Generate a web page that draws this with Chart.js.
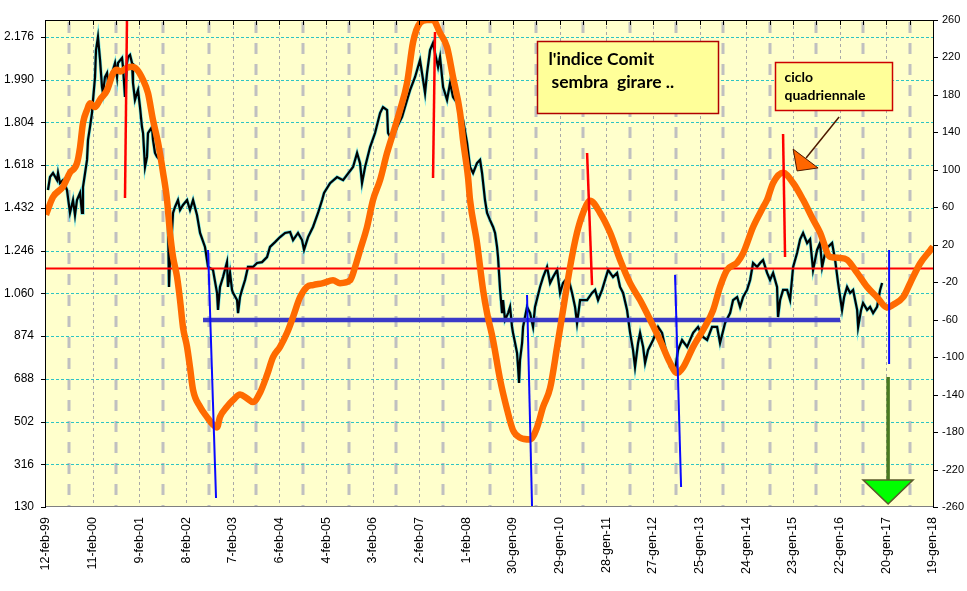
<!DOCTYPE html>
<html>
<head>
  <meta charset="utf-8">
  <title>Indice Comit - ciclo quadriennale</title>
  <script src="https://cdn.jsdelivr.net/npm/chart.js"></script>
  <style>
    body { margin: 0; background: #fff; overflow: hidden; }
  </style>
</head>
<body>
  <canvas id="grafico" width="967" height="591"></canvas>

  <script>
    // etichette asse x (una ogni 52 settimane)
    const etichetteX = ['12-feb-99', '11-feb-00', '9-feb-01', '8-feb-02', '7-feb-03', '6-feb-04',
      '4-feb-05', '3-feb-06', '2-feb-07', '1-feb-08', '30-gen-09', '29-gen-10', '28-gen-11',
      '27-gen-12', '25-gen-13', '24-gen-14', '23-gen-15', '22-gen-16', '20-gen-17', '19-gen-18'];
    const tickSx = [130, 316, 502, 688, 874, 1060, 1246, 1432, 1618, 1804, 1990, 2176];
    const tickDx = [-260, -220, -180, -140, -100, -60, -20, 20, 60, 100, 140, 180, 220, 260];

    // indice Comit: settimane dal 12-feb-99, valore
    const comitSett = [2.2, 4.5, 7.8, 12.3, 13.4, 15.6, 18.9, 23.4, 26.7, 30.1,
      32.3, 34.5, 37.9, 40.1, 41.2, 45.7, 46.8, 49.0, 51.2, 52.4,
      54.6, 55.7, 57.9, 60.2, 62.4, 63.5, 65.7, 68.0, 69.1, 71.3,
      74.6, 76.9, 79.1, 80.2, 84.7, 85.8, 88.0, 90.2, 91.3, 93.6,
      95.8, 96.9, 99.1, 101.4, 102.5, 104.7, 106.9, 108.1, 110.3, 112.5,
      113.6, 118.1, 119.2, 121.4, 123.7, 127.0, 130.4, 133.7, 135.9, 137.0,
      138.1, 140.4, 141.5, 143.7, 147.0, 149.3, 152.6, 157.1, 160.4, 163.8,
      168.2, 171.6, 177.1, 180.5, 186.0, 190.5, 191.6, 193.8, 197.2, 201.6,
      202.7, 205.0, 207.2, 208.3, 212.8, 213.9, 216.1, 218.3, 221.7, 225.0,
      230.6, 235.1, 240.6, 246.2, 249.5, 255.1, 260.7, 266.3, 271.9, 275.2,
      280.7, 285.2, 287.4, 291.9, 297.4, 303.0, 307.5, 309.7, 316.4, 324.2,
      330.9, 342.0, 346.5, 349.8, 352.0, 355.4, 361.0, 366.5, 372.1, 375.4,
      379.9, 381.0, 385.4, 391.0, 396.6, 402.2, 405.5, 411.1, 416.6, 420.0,
      422.2, 424.4, 427.8, 431.1, 433.3, 436.7, 438.9, 442.3, 446.7, 450.1,
      453.4, 457.9, 461.2, 464.5, 469.0, 472.3, 475.7, 480.1, 483.5, 485.7,
      489.0, 491.3, 494.6, 498.0, 500.2, 502.4, 503.5, 504.6, 505.8, 508.0,
      509.1, 511.3, 514.7, 516.9, 519.1, 520.2, 522.5, 524.7, 525.8, 526.9,
      528.0, 530.3, 531.4, 535.8, 539.2, 542.5, 544.7, 550.3, 553.7, 558.1,
      561.5, 564.8, 569.3, 572.6, 575.9, 581.5, 586.0, 589.3, 591.5, 594.9,
      602.7, 608.2, 611.6, 614.9, 619.4, 622.7, 626.1, 631.6, 636.1, 639.4,
      642.8, 647.2, 650.6, 653.9, 656.1, 659.5, 661.7, 665.1, 667.3, 670.6,
      676.2, 681.8, 686.2, 689.6, 695.1, 700.7, 704.0, 708.5, 714.1, 720.8,
      726.3, 731.9, 736.4, 741.9, 747.5, 750.8, 756.4, 762.0, 765.3, 769.8,
      773.1, 776.5, 780.9, 784.3, 787.6, 792.1, 795.4, 798.7, 803.2, 806.5,
      809.9, 814.3, 815.4, 817.7, 821.0, 825.5, 828.8, 832.2, 836.6, 840.0,
      843.3, 847.8, 851.1, 854.4, 858.9, 862.2, 864.5, 867.8, 871.1, 875.6,
      879.0, 882.3, 886.7, 889.0, 892.3, 895.7, 899.0, 903.5, 904.6, 907.9,
      910.1, 914.6, 917.9, 921.3, 925.7, 929.1, 931.3];
    const comitValori = [1510, 1567, 1584, 1553, 1584, 1540, 1553, 1510, 1410, 1466,
      1401, 1466, 1497, 1410, 1523, 1641, 1728, 1784, 1845, 1902,
      2002, 2119, 2176, 2076, 1958, 1932, 2002, 2019, 1976, 2002,
      2032, 2063, 2002, 2063, 2085, 2045, 1915, 2063, 2089, 2098,
      2063, 1976, 1902, 1932, 1945, 1871, 1784, 1758, 1610, 1654,
      1758, 1784, 1728, 1671, 1654, 1641, 1584, 1523, 1379, 1088,
      1205, 1336, 1410, 1436, 1466, 1423, 1445, 1466, 1423, 1466,
      1401, 1323, 1262, 1175, 1162, 1062, 988, 1088, 1131, 1196,
      1088, 1149, 1075, 1062, 1031, 974, 1044, 1075, 1118, 1175,
      1175, 1192, 1196, 1218, 1262, 1283, 1305, 1323, 1327, 1292,
      1323, 1292, 1249, 1305, 1349, 1410, 1466, 1497, 1540, 1566,
      1553, 1610, 1671, 1627, 1540, 1610, 1697, 1758, 1845, 1871,
      1858, 1758, 1728, 1784, 1828, 1902, 1945, 2002, 2076, 1989,
      1932, 2019, 2119, 2150, 2106, 2045, 2089, 1958, 1902, 1976,
      1915, 1889, 1845, 1815, 1715, 1610, 1584, 1627, 1641, 1584,
      1466, 1410, 1379, 1349, 1323, 1262, 1218, 1149, 1075, 974,
      1031, 944, 974, 1001, 914, 888, 844, 800, 740, 670,
      770, 844, 914, 1001, 974, 914, 1001, 1088, 1131, 1175,
      1105, 1131, 1162, 1062, 1105, 1131, 1062, 1001, 930, 1031,
      1031, 1062, 1075, 1031, 1075, 1118, 1162, 1131, 1149, 1088,
      1062, 988, 888, 813, 740, 844, 888, 827, 757, 813,
      857, 914, 888, 827, 740, 726, 813, 857, 827, 888,
      914, 870, 857, 914, 914, 844, 931, 974, 1031, 1044,
      1001, 1044, 1075, 1118, 1192, 1175, 1192, 1205, 1149, 1118,
      1149, 1088, 957, 1031, 1075, 1075, 1031, 1175, 1236, 1295,
      1323, 1279, 1295, 1162, 1249, 1279, 1175, 1236, 1262, 1279,
      1205, 1105, 988, 1044, 1088, 1062, 1075, 988, 914, 988,
      1018, 988, 1001, 974, 1001, 1075, 1105];

    // ciclo (asse destro)
    const cicloSett = [0, 7.8, 18.9, 26.7, 34.5, 37.9, 41.2, 45.7, 49.0, 54.6,
      60.2, 68.0, 74.6, 79.1, 82.4, 90.2, 95.8, 101.4, 108.1, 113.6,
      119.2, 124.8, 130.4, 134.8, 138.1, 141.5, 145.9, 149.3, 152.6, 157.1,
      160.4, 163.8, 171.6, 179.4, 186.0, 190.5, 193.8, 201.6, 208.3, 216.1,
      223.9, 230.6, 238.4, 246.2, 252.9, 260.7, 268.5, 275.2, 283.0, 290.8,
      297.4, 308.6, 319.7, 327.5, 338.7, 344.2, 349.8, 357.6, 364.3, 372.1,
      379.9, 386.6, 394.4, 402.2, 408.8, 416.6, 424.4, 431.1, 438.9, 446.7,
      453.4, 461.2, 464.5, 470.1, 472.3, 480.1, 486.8, 491.3, 498.0, 505.8,
      513.6, 520.2, 528.0, 539.2, 547.0, 553.7, 561.5, 569.3, 575.9, 583.7,
      591.5, 598.2, 606.0, 617.2, 628.3, 639.4, 650.6, 661.7, 672.9, 684.0,
      695.1, 702.9, 709.6, 720.8, 731.9, 743.0, 750.8, 758.6, 769.8, 776.5,
      787.6, 798.7, 803.2, 809.9, 821.0, 832.2, 843.3, 854.4, 862.2, 873.4,
      884.5, 892.3, 903.5, 914.6, 925.7, 936.9, 943.6, 954.7, 962.5, 973.6,
      984.8, 988.1];
    const cicloValori = [52, 71, 82, 97, 107, 124, 150, 164, 171, 167,
      175, 185, 203, 207, 205, 209, 210, 207, 196, 182,
      153, 129, 97, 68, 33, 7, -14, -39, -68, -89,
      -111, -135, -153, -164, -172, -175, -164, -153, -146, -140,
      -144, -148, -138, -119, -100, -89, -74, -57, -36, -25,
      -23, -21, -18, -21, -18, -4, 14, 39, 68, 89,
      118, 139, 164, 193, 236, 257, 260, 260, 246, 231,
      199, 161, 132, 92, 68, 22, -28, -53, -82, -124,
      -156, -178, -186, -188, -175, -153, -133, -89, -50, -4,
      33, 54, 67, 54, 33, 4, -21, -39, -60, -82,
      -106, -117, -111, -89, -71, -50, -25, -7, 1, 11,
      39, 60, 68, 86, 97, 86, 68, 47, 33, 7,
      6, 4, -10, -25, -36, -47, -44, -36, -21, 0,
      14, 18];

    // linee disegnate sopra (settimana, valore asse sinistro)
    const livelloRosso = 1168;
    const supportoBlu = [[174.9, 944], [884.5, 944]];
    const lineeRosse = [
      [[90.2, 2250], [88.0, 1475]],
      [[433.3, 2198], [431.1, 1562]],
      [[602.7, 1671], [608.2, 1096]],
      [[821.0, 1754], [823.2, 1218]]
    ];
    const lineeBlu = [
      [[180.5, 1249], [189.4, 169]],
      [[535.8, 1053], [541.4, 130]],
      [[700.7, 1140], [707.4, 217]],
      [[939.1, 1249], [939.1, 752]]
    ];
    const frecciaVerde = [[938, 696], [938, 248]];
    const puntaVerde = [[910.1, 248], [965.8, 248], [938, 143]];
    const frecciaArancio = [[883.4, 1828], [846.6, 1649]];
    const puntaArancio = [[832.2, 1688], [860.0, 1606], [836.6, 1593]];
    const riquadro1 = { sett: [547, 748], val: [2158, 1845] };
    const riquadro2 = { sett: [812, 942.4], val: [2067, 1858] };

    const ctx = document.getElementById('grafico').getContext('2d');

    function migliaia(v) {
      return String(v).replace(/\B(?=(\d{3})+(?!\d))/g, '.');
    }

    function punti(a) {
      return a.map(p => ({ x: p[0], y: p[1] }));
    }

    function linea(ctx, x1, y1, x2, y2) {
      ctx.beginPath();
      ctx.moveTo(x1, y1);
      ctx.lineTo(x2, y2);
      ctx.stroke();
    }

    const datiComit = comitSett.map((s, i) => ({ x: s, y: comitValori[i] }));
    const datiCiclo = cicloSett.map((s, i) => ({ x: s, y: cicloValori[i] }));

    const datasets = [];
    lineeRosse.forEach(l => datasets.push({
      data: punti(l), borderColor: '#ff0000', borderWidth: 2.5, pointRadius: 0, order: 1, yAxisID: 'y'
    }));
    lineeBlu.forEach(l => datasets.push({
      data: punti(l), borderColor: '#0a0aff', borderWidth: 2, pointRadius: 0, order: 1, yAxisID: 'y'
    }));
    datasets.push({
      data: punti(frecciaVerde), borderColor: '#4a7a22', borderWidth: 3.5, pointRadius: 0, order: 1, yAxisID: 'y'
    });
    datasets.push({
      data: datiCiclo, borderColor: '#ff6a00', borderWidth: 6.5, pointRadius: 0,
      cubicInterpolationMode: 'monotone', order: 3, yAxisID: 'y2'
    });
    datasets.push({
      data: [{ x: 0, y: livelloRosso }, { x: 988, y: livelloRosso }],
      borderColor: '#ff0000', borderWidth: 2, pointRadius: 0, order: 4, yAxisID: 'y'
    });
    datasets.push({
      data: punti(supportoBlu), borderColor: '#3a3ac8', borderWidth: 4.5, pointRadius: 0, order: 4, yAxisID: 'y'
    });
    datasets.push({
      data: datiComit, borderColor: '#000000', borderWidth: 2.2, pointRadius: 0, order: 5, yAxisID: 'y'
    });
    datasets.push({
      data: datiComit, borderColor: '#6fe4e8', borderWidth: 3.4, pointRadius: 0, order: 6, yAxisID: 'y'
    });

    // sfondo, griglie, assi, riquadri e frecce
    const decorazioni = {
      id: 'decorazioni',
      beforeDraw(chart) {
        const { ctx, chartArea: a } = chart;
        ctx.save();
        ctx.fillStyle = '#ffffff';
        ctx.fillRect(0, 0, chart.width, chart.height);
        ctx.fillStyle = '#ffffcc';
        ctx.fillRect(a.left, a.top, a.right - a.left, a.bottom - a.top);
        ctx.restore();
      },
      beforeDatasetsDraw(chart) {
        const { ctx, chartArea: a, scales: { x, y } } = chart;
        ctx.save();
        // griglia verticale sottile alle etichette
        ctx.strokeStyle = '#a8a8a8';
        ctx.lineWidth = 1;
        ctx.setLineDash([3, 3]);
        for (let k = 1; k < etichetteX.length - 1; k++) {
          const px = Math.round(x.getPixelForValue(k * 52)) + 0.5;
          linea(ctx, px, a.top, px, a.bottom);
        }
        // griglia verticale spessa a metà
        ctx.strokeStyle = '#c0c0c0';
        ctx.lineWidth = 3;
        ctx.setLineDash([11, 10]);
        for (let k = 0; k < etichetteX.length - 1; k++) {
          const px = Math.round(x.getPixelForValue(k * 52 + 26));
          linea(ctx, px, a.top + 2, px, a.bottom);
        }
        // griglia orizzontale
        ctx.strokeStyle = '#2ec4c4';
        ctx.lineWidth = 1;
        ctx.setLineDash([3, 2]);
        tickSx.slice(1).forEach(v => {
          const py = Math.round(y.getPixelForValue(v)) + 0.5;
          linea(ctx, a.left, py, a.right, py);
        });
        ctx.restore();
      },
      afterDatasetsDraw(chart) {
        const { ctx, chartArea: a, scales: { x, y, y2 } } = chart;
        const px = p => [x.getPixelForValue(p[0]), y.getPixelForValue(p[1])];
        ctx.save();

        // assi
        ctx.lineWidth = 1;
        ctx.strokeStyle = '#808080';
        linea(ctx, a.left, a.bottom - 0.5, a.right, a.bottom - 0.5);
        ctx.strokeStyle = '#000000';
        linea(ctx, a.left - 0.5, a.top, a.left - 0.5, a.bottom);
        tickSx.forEach(v => {
          const py = Math.round(y.getPixelForValue(v)) + 0.5;
          linea(ctx, a.left - 5, py, a.left, py);
        });
        linea(ctx, a.right + 0.5, a.top, a.right + 0.5, a.bottom);
        tickDx.forEach(v => {
          const py = Math.round(y2.getPixelForValue(v)) + 0.5;
          linea(ctx, a.right, py, a.right + 5, py);
        });
        linea(ctx, a.left, a.top + 0.5, a.right, a.top + 0.5);
        for (let k = 1; k < (etichetteX.length - 1) * 2; k++) {
          const tx = Math.round(x.getPixelForValue(k * 26)) + 0.5;
          linea(ctx, tx, a.top, tx, a.top + 5);
        }

        // freccia arancio verso il picco
        ctx.strokeStyle = '#4d1a00';
        ctx.lineWidth = 1.5;
        const f1 = px(frecciaArancio[0]), f2 = px(frecciaArancio[1]);
        linea(ctx, f1[0], f1[1], f2[0], f2[1]);
        ctx.beginPath();
        puntaArancio.map(px).forEach((p, i) => i ? ctx.lineTo(p[0], p[1]) : ctx.moveTo(p[0], p[1]));
        ctx.closePath();
        ctx.fillStyle = '#ff6600';
        ctx.fill();
        ctx.lineWidth = 1;
        ctx.stroke();

        // punta verde
        ctx.beginPath();
        puntaVerde.map(px).forEach((p, i) => i ? ctx.lineTo(p[0], p[1]) : ctx.moveTo(p[0], p[1]));
        ctx.closePath();
        ctx.fillStyle = '#00ff00';
        ctx.fill();
        ctx.strokeStyle = '#5a5a2a';
        ctx.lineWidth = 1.5;
        ctx.stroke();

        // riquadri di testo
        function riquadro(r, bordo, font, righe) {
          const x1 = Math.round(x.getPixelForValue(r.sett[0])) + 0.5;
          const y1 = Math.round(y.getPixelForValue(r.val[0])) + 0.5;
          const x2 = Math.round(x.getPixelForValue(r.sett[1])) + 0.5;
          const y2p = Math.round(y.getPixelForValue(r.val[1])) + 0.5;
          ctx.fillStyle = '#ffff99';
          ctx.fillRect(x1, y1, x2 - x1, y2p - y1);
          ctx.strokeStyle = bordo;
          ctx.lineWidth = 1.5;
          ctx.strokeRect(x1, y1, x2 - x1, y2p - y1);
          ctx.fillStyle = '#000000';
          ctx.font = font;
          ctx.textBaseline = 'alphabetic';
          righe.forEach(r => ctx.fillText(r[0], x1 + r[1], y1 + r[2]));
        }
        riquadro(riquadro1, '#b00000', 'bold 17.5px Lato',
          [["l'indice Comit", 11, 23], ['sembra  girare ..', 14, 46]]);
        riquadro(riquadro2, '#cc0000', 'bold 14px Lato',
          [['ciclo', 9, 19], ['quadriennale', 9, 37]]);

        ctx.restore();
      }
    };

    const grafico = new Chart(ctx, {
      type: 'line',
      data: { datasets: datasets },
      options: {
        responsive: false,
        animation: false,
        layout: { padding: { top: 20, left: 0, right: 0, bottom: 0 } },
        plugins: {
          legend: { display: false },
          tooltip: { enabled: false }
        },
        scales: {
          x: {
            type: 'linear',
            position: 'bottom',
            min: 0,
            max: 988,
            afterBuildTicks: s => { s.ticks = etichetteX.map((e, i) => ({ value: i * 52 })); },
            afterFit: s => { s.height = 84; },
            grid: { display: false, drawTicks: false },
            border: { display: false },
            ticks: {
              autoSkip: false,
              minRotation: 90,
              maxRotation: 90,
              padding: 10,
              color: '#000',
              font: { family: 'Liberation Sans', size: 12.5 },
              callback: (v, i) => etichetteX[i]
            }
          },
          y: {
            position: 'left',
            min: 130,
            max: 2250,
            afterBuildTicks: s => { s.ticks = tickSx.map(v => ({ value: v })); },
            afterFit: s => { s.width = 46; },
            grid: { display: false, drawTicks: false },
            border: { display: false },
            ticks: {
              padding: 12,
              color: '#000',
              font: { family: 'Liberation Sans', size: 12 },
              callback: v => migliaia(v)
            }
          },
          y2: {
            position: 'right',
            min: -260,
            max: 260,
            afterBuildTicks: s => { s.ticks = tickDx.map(v => ({ value: v })); },
            afterFit: s => { s.width = 34; },
            grid: { display: false, drawTicks: false },
            border: { display: false },
            ticks: {
              padding: 9,
              color: '#000',
              font: { family: 'Liberation Sans', size: 11 },
              callback: v => String(v)
            }
          }
        }
      },
      plugins: [decorazioni]
    });
  </script>
</body>
</html>
